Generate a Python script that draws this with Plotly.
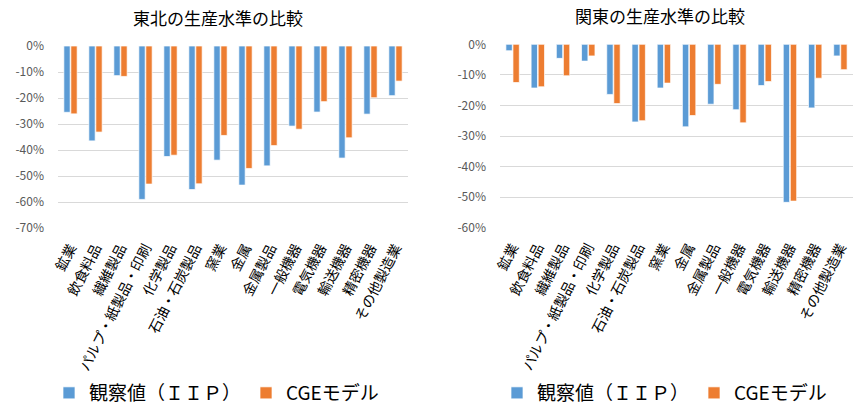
import plotly.graph_objects as go

# Industry categories (shared by both regions)
categories = ["鉱業", "飲食料品", "繊維製品", "パルプ・紙製品・印刷", "化学製品",
              "石油・石炭製品", "窯業", "金属", "金属製品", "一般機器",
              "電気機器", "輸送機器", "精密機器", "その他製造業"]

# Tohoku: change in production level (%)
tohoku_iip = [-25.5, -36.5, -11.4, -59.0, -42.5, -55.2, -43.9, -53.5, -46.1, -30.8,
              -25.4, -43.1, -26.2, -19.1]
tohoku_cge = [-26.1, -33.1, -11.7, -53.1, -42.0, -53.0, -34.4, -47.1, -38.3, -32.0,
              -21.4, -35.3, -19.9, -13.5]

# Kanto: change in production level (%)
kanto_iip = [-2.1, -14.3, -4.6, -5.5, -16.4, -25.4, -14.3, -27.0, -19.6, -21.4,
             -13.5, -51.7, -20.8, -3.8]
kanto_cge = [-12.5, -13.9, -10.3, -3.8, -19.4, -25.0, -12.7, -23.3, -13.1, -25.7,
             -12.2, -51.3, -11.1, -8.3]

tohoku_ticks = [0, -10, -20, -30, -40, -50, -60, -70]
tohoku_ticktext = ["0%", "-10%", "-20%", "-30%", "-40%", "-50%", "-60%", "-70%"]
kanto_ticks = [0, -10, -20, -30, -40, -50, -60]
kanto_ticktext = ["0%", "-10%", "-20%", "-30%", "-40%", "-50%", "-60%"]

series_names = ["観察値（ＩＩＰ）", "CGEモデル"]
BLUE = "#5B9BD5"
ORANGE = "#ED7D31"
FONT = "Noto Sans CJK JP"

W, H = 860, 406


def px(x):
    return x / W


def py(y):
    return 1 - y / H


fig = go.Figure()

for vals, name, color, xa, ya, lg in [
    (tohoku_iip, series_names[0], BLUE, "x", "y", "legend"),
    (tohoku_cge, series_names[1], ORANGE, "x", "y", "legend"),
    (kanto_iip, series_names[0], BLUE, "x2", "y2", "legend2"),
    (kanto_cge, series_names[1], ORANGE, "x2", "y2", "legend2"),
]:
    fig.add_trace(go.Bar(
        x=categories, y=vals, name=name, xaxis=xa, yaxis=ya, legend=lg,
        marker=dict(color=color, line=dict(color="white", width=0.7)),
    ))

xaxis_common = dict(
    type="category", tickangle=-63, showgrid=False, showline=False, ticks="",
    tickfont=dict(family=FONT, size=14, color="#000000"), ticklabelstandoff=8,
)
yaxis_common = dict(
    showgrid=True, gridcolor="#D9D9D9", gridwidth=1, zeroline=False, showline=False,
    ticks="", tickfont=dict(family=FONT, size=12, color="#595959"), ticklabelstandoff=13,
)

legend_common = dict(
    orientation="h", xanchor="left", yanchor="middle",
    font=dict(family=FONT, size=19, color="#000000"),
    itemwidth=30, bgcolor="rgba(0,0,0,0)",
)

fig.update_layout(
    width=W, height=H,
    margin=dict(l=0, r=0, t=0, b=0, autoexpand=False),
    paper_bgcolor="white", plot_bgcolor="white",
    barmode="group", bargap=0.44, bargroupgap=0.1,
    xaxis=dict(domain=[px(58), px(408)], anchor="y", **xaxis_common),
    yaxis=dict(domain=[py(228), py(46)], anchor="x", range=[-70, 0],
               tickvals=tohoku_ticks, ticktext=tohoku_ticktext, **yaxis_common),
    xaxis2=dict(domain=[px(500), px(853)], anchor="y2", **xaxis_common),
    yaxis2=dict(domain=[py(227.7), py(44.3)], anchor="x2", range=[-60, 0],
                tickvals=kanto_ticks, ticktext=kanto_ticktext, **yaxis_common),
    legend=dict(x=px(49), y=py(393), **legend_common),
    legend2=dict(x=px(497), y=py(393), **legend_common),
    annotations=[
        dict(text="東北の生産水準の比較", x=px(218), y=py(17), xref="paper", yref="paper",
             showarrow=False, font=dict(family=FONT, size=17, color="#000000"),
             xanchor="center", yanchor="middle"),
        dict(text="関東の生産水準の比較", x=px(660), y=py(16), xref="paper", yref="paper",
             showarrow=False, font=dict(family=FONT, size=17, color="#000000"),
             xanchor="center", yanchor="middle"),
    ],
    showlegend=True,
)

fig.write_html("out.html")
